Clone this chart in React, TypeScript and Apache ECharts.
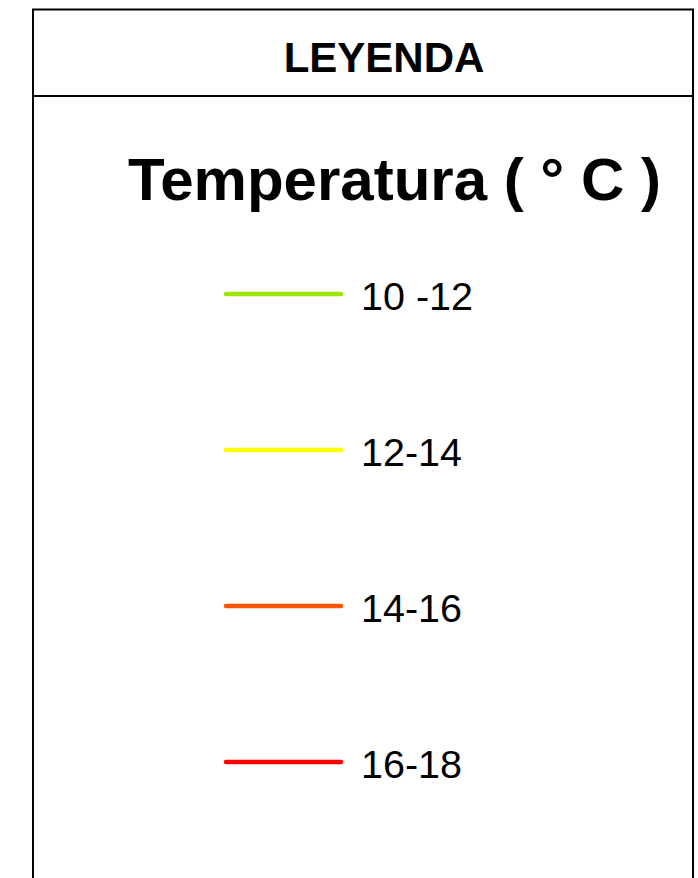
import React, { useEffect, useRef } from "react";
import * as echarts from "echarts";

const legendTitle = "LEYENDA";
const variableTitle = "Temperatura ( ° C )";
const classLabels = ["10 -12", "12-14", "14-16", "16-18"];
const classColors = ["#99e600", "#ffff00", "#ff5500", "#ff0000"];

export default function App() {
  const ref = useRef<HTMLDivElement>(null);
  useEffect(() => {
    document.body.style.margin = "0";
    const chart = echarts.init(ref.current!, null, { renderer: "svg" });
    const font = "Liberation Sans, Arial, Helvetica, sans-serif";
    const items: any[] = [];
    classLabels.forEach((lab, i) => {
      const y = 294 + i * 156;
      items.push({
        type: "line",
        shape: { x1: 226, y1: y, x2: 341, y2: y },
        style: { stroke: classColors[i], lineWidth: 4.5, lineCap: "round" },
      });
      items.push({
        type: "text",
        x: 361,
        y: y + 2,
        style: {
          text: lab,
          fill: "#000",
          font: `39.5px ${font}`,
          verticalAlign: "middle",
        },
      });
    });
    chart.setOption({
      animation: false,
      backgroundColor: "#fff",
      graphic: [
        {
          type: "rect",
          shape: { x: 33, y: 9.5, width: 660, height: 900 },
          style: { fill: "#fff", stroke: "#000", lineWidth: 2 },
        },
        {
          type: "line",
          shape: { x1: 33, y1: 96, x2: 693, y2: 96 },
          style: { stroke: "#000", lineWidth: 2 },
        },
        {
          type: "text",
          x: 384,
          y: 57,
          style: {
            text: legendTitle,
            fill: "#000",
            font: `bold 42px ${font}`,
            align: "center",
            verticalAlign: "middle",
          },
        },
        {
          type: "text",
          x: 128,
          y: 179,
          style: {
            text: variableTitle,
            fill: "#000",
            font: `bold 60px ${font}`,
            align: "left",
            verticalAlign: "middle",
          },
        },
        ...items,
      ],
    });
    return () => chart.dispose();
  }, []);
  return <div ref={ref} style={{ width: 698, height: 878 }} />;
}
